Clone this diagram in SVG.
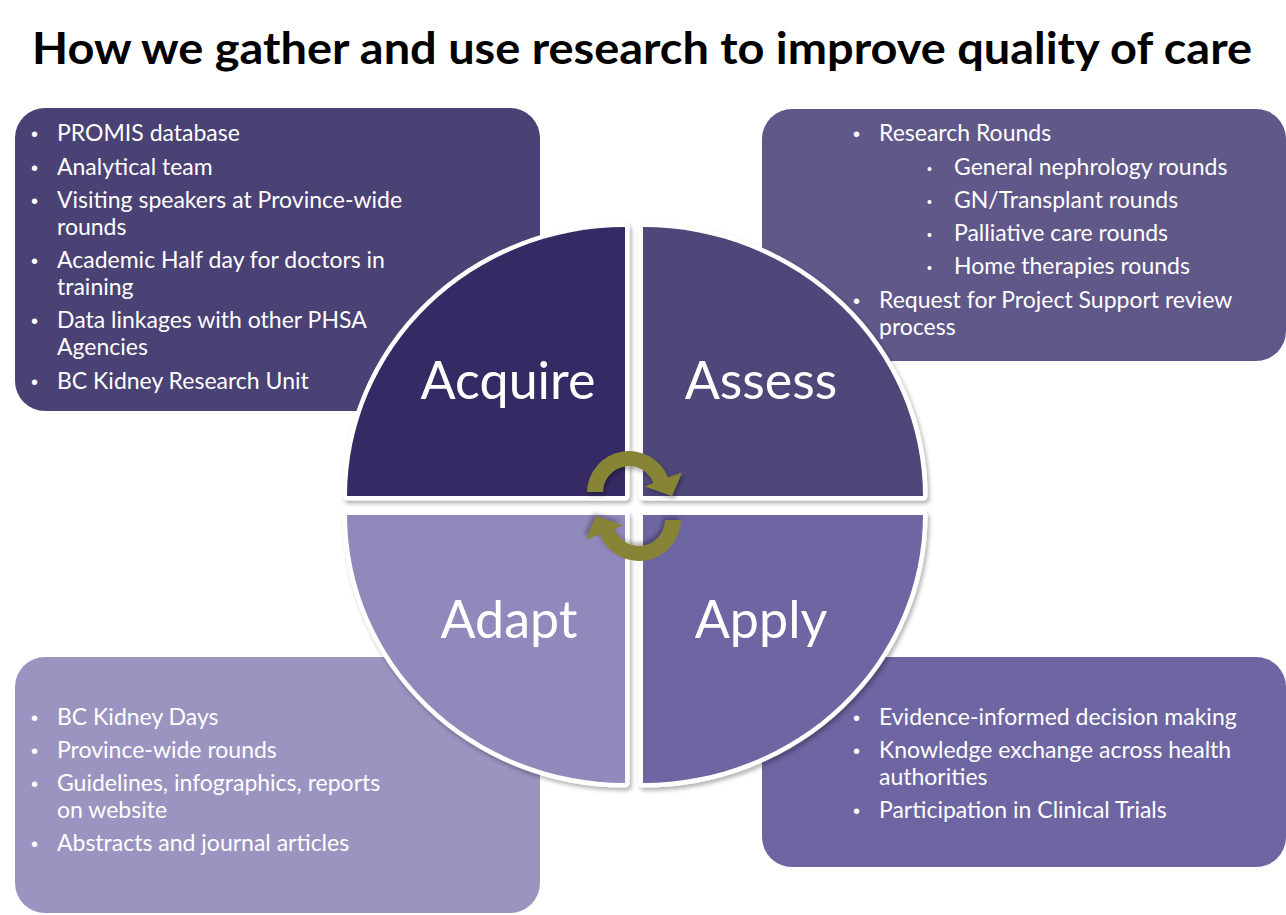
<svg xmlns="http://www.w3.org/2000/svg" width="1286" height="915" viewBox="0 0 1286 915">
<defs>
<filter id="sh" x="-10%" y="-10%" width="120%" height="120%">
<feDropShadow dx="2" dy="3" stdDeviation="2" flood-color="#000" flood-opacity="0.3"/>
</filter>
<style>
.t{font-family:Lato,"Open Sans","Noto Sans",sans-serif;font-size:23px;fill:#fff}
.b{font-family:"Liberation Sans",Arial,sans-serif;font-size:20px;fill:#fff}
.sb{font-family:"Liberation Sans",Arial,sans-serif;font-size:14px;fill:#fff}
.big{font-family:Lato,"Open Sans","Noto Sans",sans-serif;font-size:52px;fill:#fff;text-anchor:middle}
.q{stroke:#fff;stroke-width:9;paint-order:stroke;stroke-linejoin:round;filter:url(#sh)}
.arr{fill:#878536;filter:url(#sh)}
</style>
<path id="arrow" d="M 587 492 A 42 42 0 0 1 668 477.5 L 682 472.5 L 672 496 L 645 486.5 L 653.4 483.1 A 26 26 0 0 0 603 492 Z"/>
</defs>
<rect width="1286" height="915" fill="#fff"/>
<text x="642" y="64" text-anchor="middle" textLength="1220" lengthAdjust="spacingAndGlyphs" style="font-family:Lato,'Open Sans',sans-serif;font-weight:bold;font-size:44px;fill:#000">How we gather and use research to improve quality of care</text>

<g id="box-acquire">
<rect x="15" y="108" width="525" height="303" rx="30" fill="#4a4174"/>
<text class="b" x="31" y="141">•</text><text class="t" x="57" y="141">PROMIS database</text>
<text class="b" x="31" y="175">•</text><text class="t" x="57" y="175">Analytical team</text>
<text class="b" x="31" y="208">•</text><text class="t" x="57" y="208">Visiting speakers at Province-wide</text>
<text class="t" x="57" y="235">rounds</text>
<text class="b" x="31" y="268">•</text><text class="t" x="57" y="268">Academic Half day for doctors in</text>
<text class="t" x="57" y="295">training</text>
<text class="b" x="31" y="328">•</text><text class="t" x="57" y="328">Data linkages with other PHSA</text>
<text class="t" x="57" y="355">Agencies</text>
<text class="b" x="31" y="389">•</text><text class="t" x="57" y="389">BC Kidney Research Unit</text>
</g>

<g id="box-assess">
<rect x="762" y="109" width="524" height="252" rx="30" fill="#5f5889"/>
<text class="b" x="853" y="141">•</text><text class="t" x="879" y="141">Research Rounds</text>
<text class="sb" x="927" y="174">•</text><text class="t" x="954" y="175">General nephrology rounds</text>
<text class="sb" x="927" y="207">•</text><text class="t" x="954" y="208">GN/Transplant rounds</text>
<text class="sb" x="927" y="240">•</text><text class="t" x="954" y="241">Palliative care rounds</text>
<text class="sb" x="927" y="273">•</text><text class="t" x="954" y="274">Home therapies rounds</text>
<text class="b" x="853" y="308">•</text><text class="t" x="879" y="308">Request for Project Support review</text>
<text class="t" x="879" y="335">process</text>
</g>

<g id="box-adapt">
<rect x="15" y="657" width="525" height="256" rx="30" fill="#9b94c1"/>
<text class="b" x="31" y="725">•</text><text class="t" x="57" y="725">BC Kidney Days</text>
<text class="b" x="31" y="758">•</text><text class="t" x="57" y="758">Province-wide rounds</text>
<text class="b" x="31" y="791">•</text><text class="t" x="57" y="791">Guidelines, infographics, reports</text>
<text class="t" x="57" y="818">on website</text>
<text class="b" x="31" y="851">•</text><text class="t" x="57" y="851">Abstracts and journal articles</text>
</g>

<g id="box-apply">
<rect x="762" y="657" width="524" height="210" rx="30" fill="#6e65a3"/>
<text class="b" x="853" y="725">•</text><text class="t" x="879" y="725">Evidence-informed decision making</text>
<text class="b" x="853" y="758">•</text><text class="t" x="879" y="758">Knowledge exchange across health</text>
<text class="t" x="879" y="785">authorities</text>
<text class="b" x="853" y="818">•</text><text class="t" x="879" y="818">Participation in Clinical Trials</text>
</g>

<g id="q-acquire">
<path class="q" d="M 625 496 L 347 496 A 278 269 0 0 1 625 227 Z" fill="#362c63"/>
<text class="big" x="508" y="399">Acquire</text>
</g>
<g id="q-assess">
<path class="q" d="M 643 496 L 643 227 A 280 269 0 0 1 923 496 Z" fill="#4e477a"/>
<text class="big" x="761" y="399">Assess</text>
</g>
<g id="q-adapt">
<path class="q" d="M 625 515 L 625 783 A 278 268 0 0 1 347 515 Z" fill="#9188bb"/>
<text class="big" x="509" y="638">Adapt</text>
</g>
<g id="q-apply">
<path class="q" d="M 643 515 L 923 515 A 280 268 0 0 1 643 783 Z" fill="#6e65a3"/>
<text class="big" x="761" y="638">Apply</text>
</g>

<g id="connectors">
<use href="#arrow" class="arr"/>
<use href="#arrow" class="arr" transform="rotate(180 634 506)"/>
</g>
</svg>
